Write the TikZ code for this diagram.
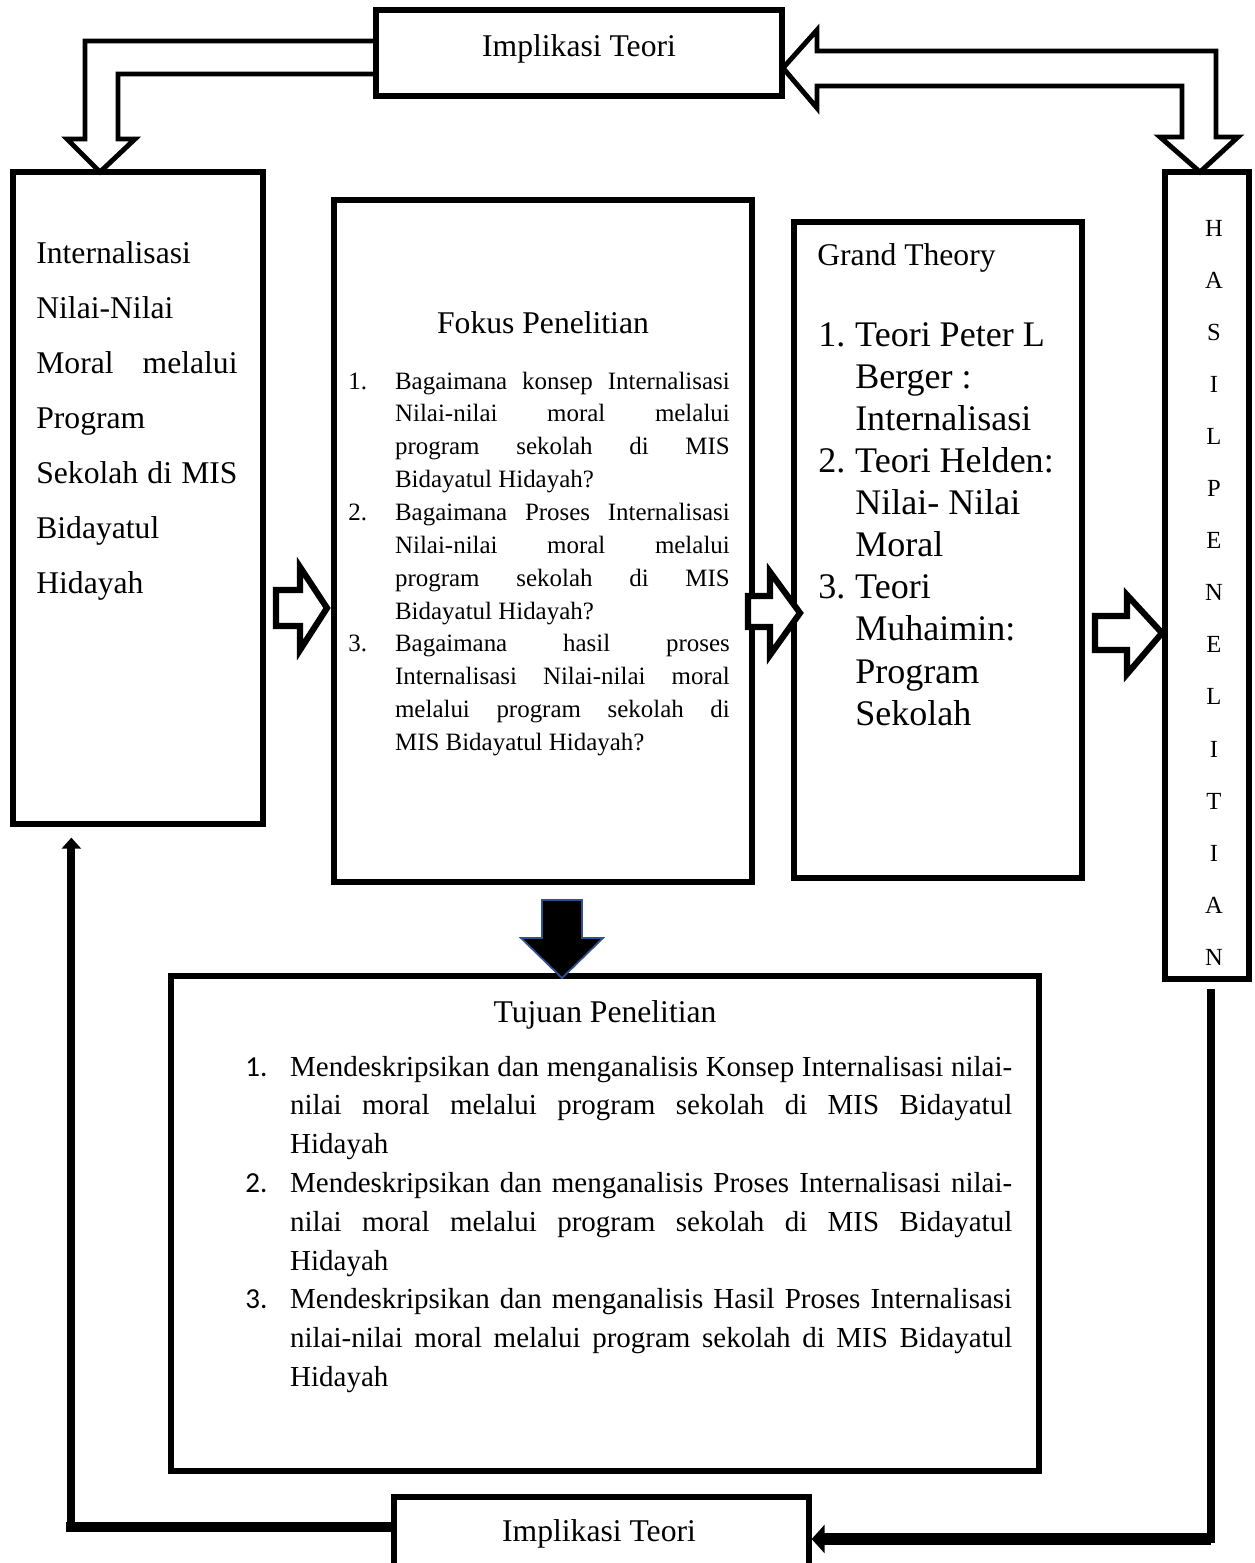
\documentclass[tikz,border=0pt]{standalone}
\usepackage{fontspec}
\setmainfont{Liberation Serif}
\newfontfamily\numfont{Carlito}
\usetikzlibrary{fit,calc,arrows.meta}
\definecolor{arrowblue}{RGB}{47,82,143}
\newlength{\fokw}\setlength{\fokw}{190.5pt}
\newlength{\tujw}\setlength{\tujw}{411pt}
\newlength{\inlw}\setlength{\inlw}{114.5pt}
\newcommand{\jl}[2]{\makebox[#1][s]{\spaceskip=0pt\xspaceskip=0pt #2}}
\newcommand{\itemno}[2]{\makebox[#1][l]{#2}}
\tikzset{
  box/.style={draw, line width=3pt, inner sep=0pt},
  hollow/.style={draw, fill=white, line width=3.5pt},
  bigarrow/.style={draw, line width=2.8pt},
  txt/.style={inner sep=0pt, anchor=base, font=\fontsize{18}{22}\selectfont},
  listtxt/.style={inner sep=0pt, anchor=base west, align=justify},
  hl/.style={inner sep=0pt, anchor=base, font=\fontsize{14}{17}\selectfont}
}
\begin{document}
\begin{tikzpicture}[x=0.02cm, y=-0.02cm]
    \useasboundingbox (0,0) rectangle (1255,1563);
    \draw [bigarrow] (376,41) -- (85,41) -- (85,139) -- (67,139) -- (100,172) -- (135,139) -- (118,139) -- (118,74) -- (376,74);
    \draw [bigarrow, fill=white] (783,68) -- (817,30) -- (817,51) -- (1216,51) -- (1216,137) -- (1238,137) -- (1200,172) -- (1160,137) -- (1182,137) -- (1182,86) -- (817,86) -- (817,108) -- cycle;
    \node [box, fit={(376,10) (782,96)}] (imp1) {};
    \node [box, fit={(13,172) (263,824)}] (inl) {};
    \node [box, fit={(334,200) (752,882)}] (fokus) {};
    \node [box, fit={(794,222) (1082,878)}] (grand) {};
    \node [box, fit={(1165,172) (1249,979)}] (hasil) {};
    \node [box, fit={(171,976) (1039,1471)}] (tujuan) {};
    \node [box, fit={(394,1497) (809,1581)}] (imp2) {};
    \node [txt] (imp1t) at (579,56) {Implikasi Teori};
    \node [txt] (imp2t) at (599,1541) {Implikasi Teori};
    \node [listtxt, text width=116pt, font=\fontsize{18}{31.35}\selectfont] (inlt) at (36,263) {Internalisasi\\
Nilai-Nilai\\
\jl{\inlw}{Moral melalui}\\
Program\\
\jl{\inlw}{Sekolah di MIS}\\
Bidayatul\\
Hidayah};
    \node [txt] (fokust) at (543,333) {Fokus Penelitian};
    \node [listtxt, text width=220pt, font=\fontsize{14.2}{18.71}\selectfont] (fokusl) at (348,389) {\itemno{26.6pt}{1.}\jl{\fokw}{Bagaimana konsep Internalisasi}\\
\hspace*{26.6pt}\jl{\fokw}{Nilai-nilai moral melalui}\\
\hspace*{26.6pt}\jl{\fokw}{program sekolah di MIS}\\
\hspace*{26.6pt}Bidayatul Hidayah?\\
\itemno{26.6pt}{2.}\jl{\fokw}{Bagaimana Proses Internalisasi}\\
\hspace*{26.6pt}\jl{\fokw}{Nilai-nilai moral melalui}\\
\hspace*{26.6pt}\jl{\fokw}{program sekolah di MIS}\\
\hspace*{26.6pt}Bidayatul Hidayah?\\
\itemno{26.6pt}{3.}\jl{\fokw}{Bagaimana hasil proses}\\
\hspace*{26.6pt}\jl{\fokw}{Internalisasi Nilai-nilai moral}\\
\hspace*{26.6pt}\jl{\fokw}{melalui program sekolah di}\\
\hspace*{26.6pt}MIS Bidayatul Hidayah?};
    \node [txt, anchor=base west] (grandt) at (817,265) {Grand Theory};
    \node [listtxt, text width=150pt, font=\fontsize{20.5}{23.98}\selectfont] (grandl) at (818,346) {\itemno{21pt}{1.}Teori Peter L\\
\hspace*{21pt}Berger :\\
\hspace*{21pt}Internalisasi\\
\itemno{21pt}{2.}Teori Helden:\\
\hspace*{21pt}Nilai- Nilai\\
\hspace*{21pt}Moral\\
\itemno{21pt}{3.}Teori\\
\hspace*{21pt}Muhaimin:\\
\hspace*{21pt}Program\\
\hspace*{21pt}Sekolah};
    \foreach \c [count=\i from 0] in {H,A,S,I,L,P,E,N,E,L,I,T,I,A,N}
        \node [hl] (h\i) at (1214,{236+52.1*\i}) {\c};
    \node [txt] (tujuant) at (605,1022) {Tujuan Penelitian};
    \node [listtxt, text width=440pt, font=\fontsize{16.5}{22.1}\selectfont] (tujuanl) at (245,1076) {\itemno{25.5pt}{\numfont 1.}\jl{\tujw}{Mendeskripsikan dan menganalisis Konsep Internalisasi nilai-}\\
\hspace*{25.5pt}\jl{\tujw}{nilai moral melalui program sekolah di MIS Bidayatul}\\
\hspace*{25.5pt}Hidayah\\
\itemno{25.5pt}{\numfont 2.}\jl{\tujw}{Mendeskripsikan dan menganalisis Proses Internalisasi nilai-}\\
\hspace*{25.5pt}\jl{\tujw}{nilai moral melalui program sekolah di MIS Bidayatul}\\
\hspace*{25.5pt}Hidayah\\
\itemno{25.5pt}{\numfont 3.}\jl{\tujw}{Mendeskripsikan dan menganalisis Hasil Proses Internalisasi}\\
\hspace*{25.5pt}\jl{\tujw}{nilai-nilai moral melalui program sekolah di MIS Bidayatul}\\
\hspace*{25.5pt}Hidayah};
    \draw [hollow] (276,590) -- (300,590) -- (300,567) -- (327,608) -- (300,650) -- (300,626) -- (276,626) -- cycle;
    \draw [hollow] (748,596) -- (770,596) -- (770,572) -- (800,613) -- (770,655) -- (770,627) -- (748,627) -- cycle;
    \draw [hollow] (1095,616) -- (1127,616) -- (1127,595) -- (1162,633) -- (1127,674) -- (1127,650) -- (1095,650) -- cycle;
    \draw [fill=black, draw=arrowblue, line width=1pt] (542,900) -- (582,900) -- (582,938) -- (603,938) -- (562,978) -- (521,938) -- (542,938) -- cycle;
    \coordinate (hr) at ($(hasil.south)+(4,11)$);
    \coordinate (lb) at ($(inl.south west)+(61,11)$);
    \coordinate (lh) at ($(imp2.west)+(0,-12)$);
    \draw [line width=4.5pt, line cap=rect] (hr) -- (hr |- imp2.east);
    \draw [line width=7pt, -{Triangle[length=0.26cm,width=0.56cm]}] (hr |- imp2.east) -- (imp2.east);
    \draw [line width=6pt, line cap=rect] (lh) -- (lh -| lb);
    \draw [line width=4.5pt, -{Triangle[length=0.22cm,width=0.38cm]}] (lh -| lb) -- (lb);
\end{tikzpicture}
\end{document}
